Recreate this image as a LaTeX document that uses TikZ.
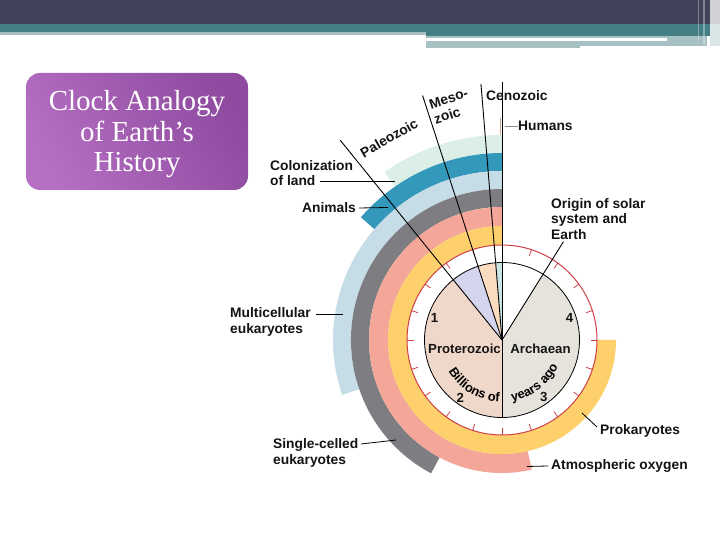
\documentclass[tikz,border=0pt]{standalone}
\usepackage{fontspec}
\setmainfont{Liberation Serif}
\newfontfamily\lab{Liberation Sans}
\usetikzlibrary{decorations.text,calc}
\definecolor{bandark}{HTML}{41435A}
\definecolor{banteal}{HTML}{457F86}
\definecolor{bangray}{HTML}{A6C0C3}
\definecolor{cgreen}{HTML}{DCEFE6}
\definecolor{cteal}{HTML}{3398BA}
\definecolor{clblue}{HTML}{C6DCE6}
\definecolor{cgray}{HTML}{7E7E82}
\definecolor{cpink}{HTML}{F4A799}
\definecolor{cyellow}{HTML}{FDD06B}
\definecolor{cred}{HTML}{CF3F48}
\definecolor{sArch}{HTML}{E5E3DC}
\definecolor{sProt}{HTML}{EFD7C9}
\definecolor{sPal}{HTML}{D5D4EE}
\definecolor{sMes}{HTML}{FADCC0}
\definecolor{sCen}{HTML}{C9E6E4}
\definecolor{tanmark}{HTML}{C9A27E}
\definecolor{ttlA}{HTML}{B46EC2}
\definecolor{ttlB}{HTML}{8E4B9F}
\newcommand\clkband[5]{\fill[#1] ([shift={(#4:#2)}]C) arc[start angle=#4,end angle=#5,radius=#2] -- ([shift={(#5:#3)}]C) arc[start angle=#5,end angle=#4,radius=#3] -- cycle;}
\newcommand\clksector[4]{\fill[#1] (C) -- ([shift={(#2:#4)}]C) arc[start angle=#2,end angle=#3,radius=#4] -- cycle;}
\tikzset{
  lbl/.style={font=\lab\bfseries\fontsize{13.8}{15.8}\selectfont, inner sep=0pt, align=left, text=black!92},
  pielbl/.style={font=\lab\bfseries\fontsize{13.2}{15}\selectfont, inner sep=0pt, text=black!92},
  ldr/.style={line width=0.8pt, black},
  eraline/.style={line width=0.9pt, black},
  tickmark/.style={line width=0.8pt, cred},
  titlebox/.style={rounded corners=14pt, minimum width=222pt, minimum height=117pt, inner sep=0pt,
     left color=ttlA, right color=ttlB, shading angle=120, text=white, align=center,
     font=\fontsize{29}{30.5}\selectfont},
}
\begin{document}
\begin{tikzpicture}[x=1pt,y=1pt]
\fill[white] (0,0) rectangle (720,540);
\useasboundingbox (0,0) rectangle (720,540);
% banner
\fill[bandark] (0,540) rectangle (720,516);
\fill[banteal] (0,516) rectangle (720,508);
\fill[banteal] (426,508) rectangle (720,504.3);
\fill[bangray] (0,508) rectangle (426,505);
\fill[bangray] (426,504.3) rectangle (707,494.3);
\fill[white] (426,501.7) rectangle (667,498.5);
\fill[bangray] (426,494.3) rectangle (580,491.7);
\fill[white!75!bandark] (710,540) rectangle (720,516);
\fill[white!80!banteal] (710,516) rectangle (720,494.3);
\draw[white, opacity=0.35, line width=1pt] (698.5,540) -- (698.5,500);
\draw[white, opacity=0.35, line width=1.5pt] (704,540) -- (704,496);
% title
\node[titlebox] (ttl) at (137,408.5) {};
\node[text=white, align=center, font=\fontsize{29}{30.5}\selectfont, inner sep=0pt] (ttltext) at (137,405.5) {Clock Analogy\\of Earth’s\\History};
% clock
\coordinate (C) at (502,200);
\clkband{cgreen}{187}{205}{90}{125}
\clkband{cteal}{169}{187}{90}{139}
\clkband{clblue}{151}{169}{90}{199}
\clkband{cgray}{133}{151}{90}{242}
\clkband{cpink}{114}{133}{90}{283}
\clkband{cyellow}{95}{114}{90}{360}
\clksector{sArch}{270}{418}{77.5}
\clksector{sProt}{129}{270}{77.5}
\clksector{sPal}{108}{129}{77.5}
\clksector{sMes}{94.7}{108}{77.5}
\clksector{sCen}{90}{94.7}{77.5}
\draw[line width=0.8pt, black] (C) circle[radius=77.5];
\draw[line width=1pt, cred] (C) circle[radius=95];
\foreach \a in {0,18,...,342} \draw[tickmark] ([shift={(\a:88.5)}]C) -- ([shift={(\a:95)}]C);
% era lines
\coordinate (eTop) at ([shift={(90:258)}]C);
\coordinate (eBot) at ([shift={(270:77.5)}]C);
\coordinate (eCen) at ([shift={(94.7:257)}]C);
\coordinate (eMes) at ([shift={(108:257)}]C);
\coordinate (ePal) at ([shift={(129:257)}]C);
\coordinate (eOri) at ([shift={(58:116)}]C);
\draw[eraline] (eBot) -- (eTop);
\draw[eraline] (C) -- (eCen);
\draw[eraline] (C) -- (eMes);
\draw[eraline] (C) -- (ePal);
\draw[eraline] (C) -- (eOri);
\draw[tanmark, line width=1.6pt] (500.6,422) -- (500.6,405);
% pie labels
\node[pielbl] (prot) at (464.5,191) {Proterozoic};
\node[pielbl] (arch) at (540.5,191) {Archaean};
\node[pielbl] (n1) at ([shift={(162:71)}]C) {1};
\node[pielbl] (n2) at ([shift={(234:71)}]C) {2};
\node[pielbl] (n3) at ([shift={(306:71)}]C) {3};
\node[pielbl] (n4) at ([shift={(18:71)}]C) {4};
\path[decorate, decoration={text along path, text align=center,
  text={|\lab\bfseries\fontsize{12.8}{14}\selectfont|Billions of}}]
  ([shift={(211:62)}]C) arc[start angle=211, end angle=267, radius=62];
\path[decorate, decoration={text along path, text align=center,
  text={|\lab\bfseries\fontsize{12.8}{14}\selectfont|years ago}}]
  ([shift={(277:62)}]C) arc[start angle=277, end angle=337, radius=62];
% era labels
\node[lbl, anchor=west] (cen) at (486,444) {Cenozoic};
\node[lbl, rotate=18] (mes) at (451,434) {Meso-\\zoic};
\node[lbl, rotate=30] (pal) at (389,402) {Paleozoic};
% side labels
\node[lbl, anchor=west] (hum) at (518,414) {Humans};
\coordinate (hA) at (504.5,414);
\draw[ldr, black!45] (hA) -- (hum.west);
\node[lbl, anchor=west] (ori) at (551,321) {Origin of solar\\system and\\Earth};
\node[lbl, anchor=west] (col) at (270,367) {Colonization\\of land};
\coordinate (cA) at (395,359); \coordinate (cB) at (320,359);
\draw[ldr] (cA) -- (cB);
\node[lbl, anchor=west] (ani) at (302,332) {Animals};
\coordinate (aA) at (388,332.5);
\draw[ldr] (aA) -- ([xshift=3pt]ani.east);
\node[lbl, anchor=west] (mul) at (230,218) {Multicellular\\eukaryotes};
\coordinate (mA) at (343,226); \coordinate (mB) at (316,226);
\draw[ldr] (mA) -- (mB);
\node[lbl, anchor=west] (sin) at (273,87) {Single-celled\\eukaryotes};
\coordinate (sA) at (396,100); \coordinate (sB) at (361,96);
\draw[ldr] (sA) -- (sB);
\node[lbl, anchor=west] (pro) at (600,109) {Prokaryotes};
\coordinate (pA) at (582,127);
\draw[ldr] (pA) -- ([xshift=-3pt,yshift=4pt]pro.west);
\node[lbl, anchor=west] (oxy) at (551,74) {Atmospheric oxygen};
\coordinate (oA) at (527,73.5);
\draw[ldr] (oA) -- ([xshift=-3pt]oxy.west);
\end{tikzpicture}
\end{document}
